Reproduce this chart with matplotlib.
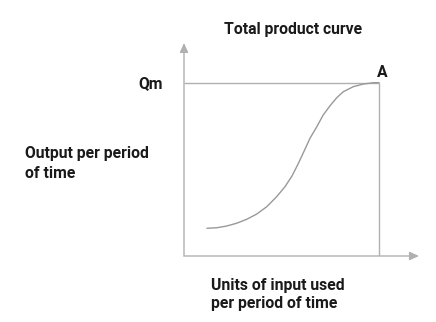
import matplotlib
matplotlib.use("Agg")
import matplotlib.pyplot as plt

# Data (input units vs output)
input_units = [1.19, 1.68, 2.19, 2.70, 3.22, 3.73, 4.24, 4.75, 5.18, 5.54, 5.85,
               6.15, 6.46, 6.81, 7.14, 7.49, 7.83, 8.17, 8.68, 9.19, 9.71, 10.0]
output = [1.60, 1.63, 1.73, 1.89, 2.12, 2.42, 2.84, 3.42, 4.00, 4.62, 5.31,
          6.03, 6.79, 7.46, 8.14, 8.67, 9.13, 9.48, 9.77, 9.92, 10.0, 10.0]
x_max_input = 10.0
q_max = 10.0

title = "Total product curve"
ylabel_lines = ["Output per period", "of time"]
xlabel_lines = ["Units of input used", "per period of time"]
qm_label = "Qm"
point_label = "A"

W, H = 436, 322
fig = plt.figure(figsize=(W / 100, H / 100), dpi=100)
fig.patch.set_facecolor("white")

# axes: origin at pixel (184, 256)
px_per_x = 19.5
px_per_y = 17.33
left, bottom, right, top = 184, 256, 424, 40
ax = fig.add_axes([left / W, 1 - bottom / H, (right - left) / W, (bottom - top) / H])
ax.set_xlim(0, (right - left) / px_per_x)
ax.set_ylim(0, (bottom - top) / px_per_y)
ax.axis("off")

gray = "#b0b0b0"
curve_gray = "#999999"

# axes arrows
ax.annotate("", xy=(12.05, 0), xytext=(0, 0),
            arrowprops=dict(arrowstyle="-|>,head_length=0.55,head_width=0.25",
                            color=gray, lw=1.0, shrinkA=0, shrinkB=0))
ax.annotate("", xy=(0, 12.29), xytext=(0, 0),
            arrowprops=dict(arrowstyle="-|>,head_length=0.55,head_width=0.25",
                            color=gray, lw=1.0, shrinkA=0, shrinkB=0))

# Qm line and vertical line
ax.plot([0, x_max_input], [q_max, q_max], color=gray, lw=1.0, solid_capstyle="butt")
ax.plot([x_max_input, x_max_input], [0, q_max], color=gray, lw=1.0, solid_capstyle="butt")

# total product curve
ax.plot(input_units, output, color=curve_gray, lw=1.0, solid_joinstyle="round")

font = dict(family=["Roboto", "DejaVu Sans"], fontweight="bold", color="#1a1a1a", fontsize=11.3)

def ftext(x, y, s, ha="left"):
    fig.text(x / W, 1 - y / H, s, ha=ha, va="baseline", **font)

ftext(293, 34, title, ha="center")
ftext(382, 76.7, point_label, ha="center")
ftext(138, 88.3, qm_label)
ftext(25, 158.3, ylabel_lines[0])
ftext(25, 177.7, ylabel_lines[1])
ftext(211, 290, xlabel_lines[0])
ftext(211, 307.7, xlabel_lines[1])

fig.savefig("out.png", dpi=100, facecolor="white")
